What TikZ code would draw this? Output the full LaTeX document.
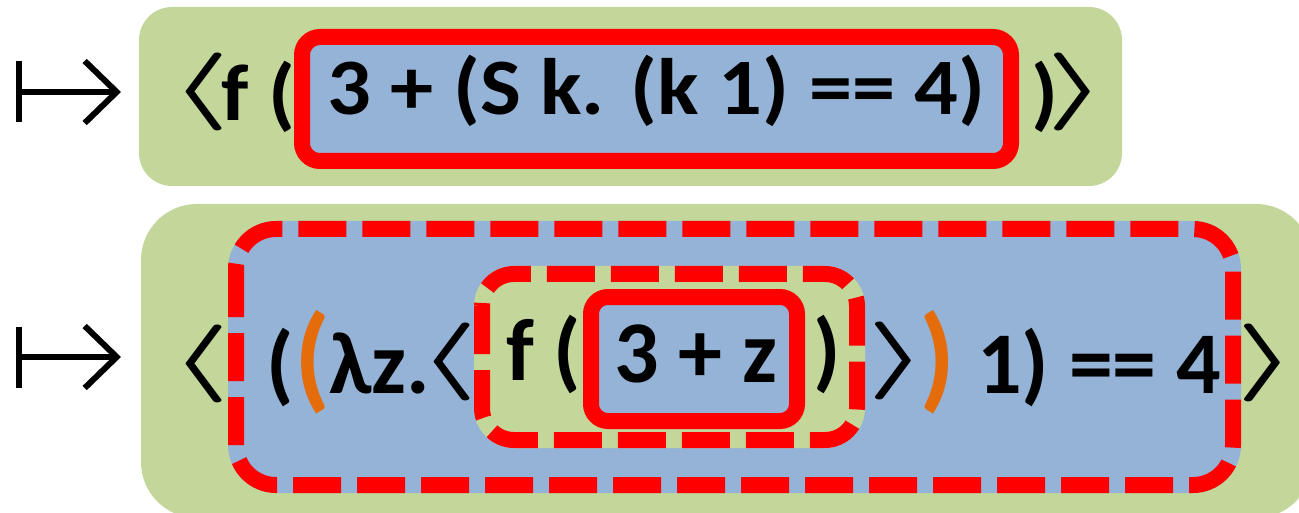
\documentclass[tikz,border=0pt]{standalone}
\usepackage{fontspec}
\setmainfont{Carlito}
\newfontfamily\widefont{Carlito}[FakeStretch=1.08]
\usepackage{xcolor}
\usetikzlibrary{arrows.meta}

\definecolor{olivebg}{HTML}{C4D79B}
\definecolor{bluebg}{HTML}{95B3D7}
\definecolor{lamorange}{HTML}{E46C0A}

\newcommand\toptext{\widefont\bfseries\fontsize{80}{96}\selectfont}
\newcommand\bottext{\bfseries\fontsize{88}{106}\selectfont}
\newcommand\bigparen{\bfseries\fontsize{116}{140}\selectfont}
\newcommand\langbr{\scalebox{14}[7.8]{\makebox[2.2pt]{\boldmath$\langle$}}}
\newcommand\rangbr{\scalebox{14}[7.8]{\makebox[2.2pt]{\boldmath$\rangle$}}}

\tikzset{
    greenbg/.style={fill=olivebg},
    solidred/.style={draw=red, line width=16pt, fill=bluebg},
    dashred/.style={draw=red, line width=16pt, dash pattern=on 48pt off 16pt},
    tok/.style={anchor=base west, inner sep=0pt},
    brk/.style={inner sep=0pt},
    mapsto/.style={line width=6pt, arrows={Bar[width=61pt]-Straight Barb[length=32pt, width=62pt]}},
}

\begin{document}
\begin{tikzpicture}[x=1pt, y=-1pt]
    \useasboundingbox (0,0) rectangle (1299,513);

    % first step
    \fill[greenbg, rounded corners=33pt] (139,7) rectangle (1122,186);
    \draw[solidred, rounded corners=18pt] (302,37) rectangle (1011,161);

    \coordinate (mapA0) at (16,92);
    \coordinate (mapA1) at (121,92);
    \draw[mapsto] (mapA0) -- (mapA1);
    \node[brk] (langA) at (200,92) {\langbr};
    \node[tok, font=\toptext] (fA) at (221,121) {f (};
    \node[tok, font=\toptext] (sumA) at (327,115) {3 + (S k. (k 1) == 4)};
    \node[tok, font=\toptext] (clA) at (1031,121) {)};
    \node[brk] (rangA) at (1077,92) {\rangbr};

    % second step
    \fill[greenbg, rounded corners=56pt] (141,204) rectangle (1312,518);
    \fill[bluebg, rounded corners=48pt] (228,221) rectangle (1241,493);
    \draw[dashred, rounded corners=40pt] (236,229) rectangle (1233,485);
    \fill[greenbg, rounded corners=40pt] (474,266) rectangle (865,448);
    \draw[dashred, rounded corners=32pt] (482,274) rectangle (857,440);
    \draw[solidred, rounded corners=17pt] (591,297) rectangle (797,421);

    \coordinate (mapB0) at (16,357);
    \coordinate (mapB1) at (121,357);
    \draw[mapsto] (mapB0) -- (mapB1);
    \node[brk] (langB) at (200,364) {\langbr};
    \node[tok, font=\bottext] (opB) at (266,393) {(};
    \node[brk, font=\bigparen, text=lamorange] (lamop) at (313,362) {(};
    \node[tok, font=\bottext] (lamB) at (329,393) {λz.};
    \node[brk] (langC) at (448,362) {\langbr};
    \node[tok, font=\bottext] (fB) at (506,380) {f (};
    \node[tok, font=\bottext] (sumB) at (614,382) {3 + z};
    \node[tok, font=\bottext] (clB) at (813,380) {)};
    \node[brk] (rangC) at (898,361) {\rangbr};
    \node[brk, font=\bigparen, text=lamorange] (lamcl) at (938,362) {)};
    \node[tok, font=\bottext] (restB) at (977,393) {1) == 4};
    \node[brk] (rangB) at (1267,363) {\rangbr};
\end{tikzpicture}
\end{document}
